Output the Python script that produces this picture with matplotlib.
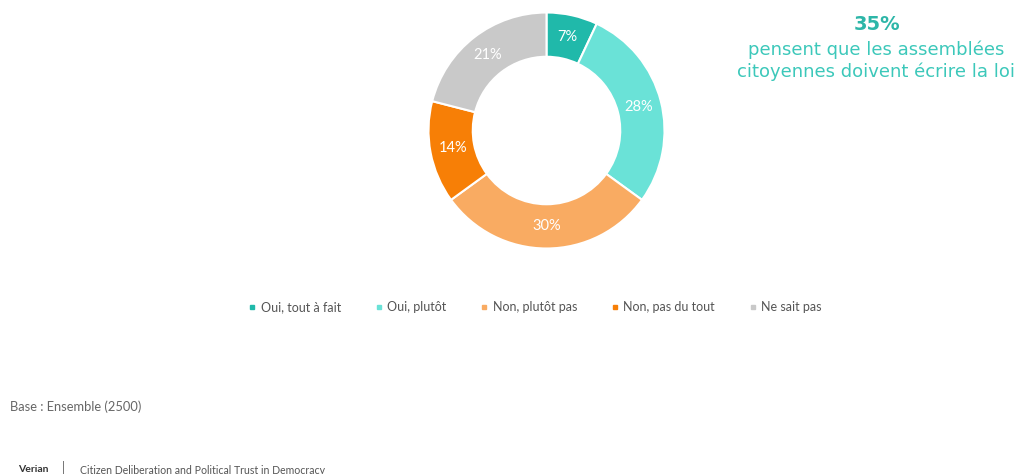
import matplotlib
matplotlib.use("Agg")
import matplotlib.pyplot as plt
from matplotlib.lines import Line2D

plt.rcParams['font.family'] = ['Lato', 'DejaVu Sans']

categories = ["Oui, tout à fait", "Oui, plutôt", "Non, plutôt pas", "Non, pas du tout", "Ne sait pas"]
values = [7, 28, 30, 14, 21]
colors = ["#20b9aa", "#6ae2d7", "#f9ab62", "#f77f06", "#c9c9c9"]
headline = "35%"
headline_lines = ["pensent que les assemblées", "citoyennes doivent écrire la loi"]
base_text = "Base : Ensemble (2500)"
footer_brand = "Verian"
footer_text = "Citizen Deliberation and Political Trust in Democracy"

W, H = 1027, 474
fig = plt.figure(figsize=(W / 100, H / 100), dpi=100)

cx, cy, r = 546.5, 130.5, 118
ax = fig.add_axes([(cx - r) / W, (H - cy - r) / H, 2 * r / W, 2 * r / H])
wedges, texts = ax.pie(values, colors=colors, startangle=90, counterclock=False,
                       labels=[f"{v}%" for v in values], labeldistance=0.81,
                       wedgeprops=dict(width=0.375, edgecolor="white", linewidth=1.5),
                       textprops=dict(color="white", fontsize=10.5, ha="center", va="center"))
ax.set_xlim(-1, 1)
ax.set_ylim(-1, 1)
ax.set_aspect("equal")
ax.axis("off")

teal = "#2db6a8"
fig.text(877 / W, 1 - 25 / H, headline, ha="center", va="center", fontsize=14,
         fontweight="bold", color=teal, family=["DejaVu Sans"])
for i, line in enumerate(headline_lines):
    fig.text(876 / W, 1 - (50 + 22 * i) / H, line, ha="center", va="center", fontsize=13,
             color="#3cc8ba", family=["DejaVu Sans"])

handles = [Line2D([], [], marker="s", linestyle="none", markersize=3.5,
                  markerfacecolor=c, markeredgecolor=c) for c in colors]
fig.legend(handles, categories, loc="center", bbox_to_anchor=(535 / W, 1 - 307 / H),
           ncol=5, frameon=False, handlelength=0.6, handletextpad=0.4,
           columnspacing=2.7, fontsize=9, labelcolor="#555555")

fig.text(10 / W, 1 - 407 / H, base_text, ha="left", va="center", fontsize=9.3, color="#666666")
fig.text(18 / W, 1 - 470 / H, footer_brand, ha="left", va="center", fontsize=7.5,
         fontweight="bold", color="#333333")
fig.text(62 / W, 1 - 468 / H, "|", ha="left", va="center", fontsize=9, color="#666666")
fig.text(80 / W, 1 - 470 / H, footer_text, ha="left", va="center", fontsize=7.6, color="#555555")

fig.savefig("out.png", dpi=100)
